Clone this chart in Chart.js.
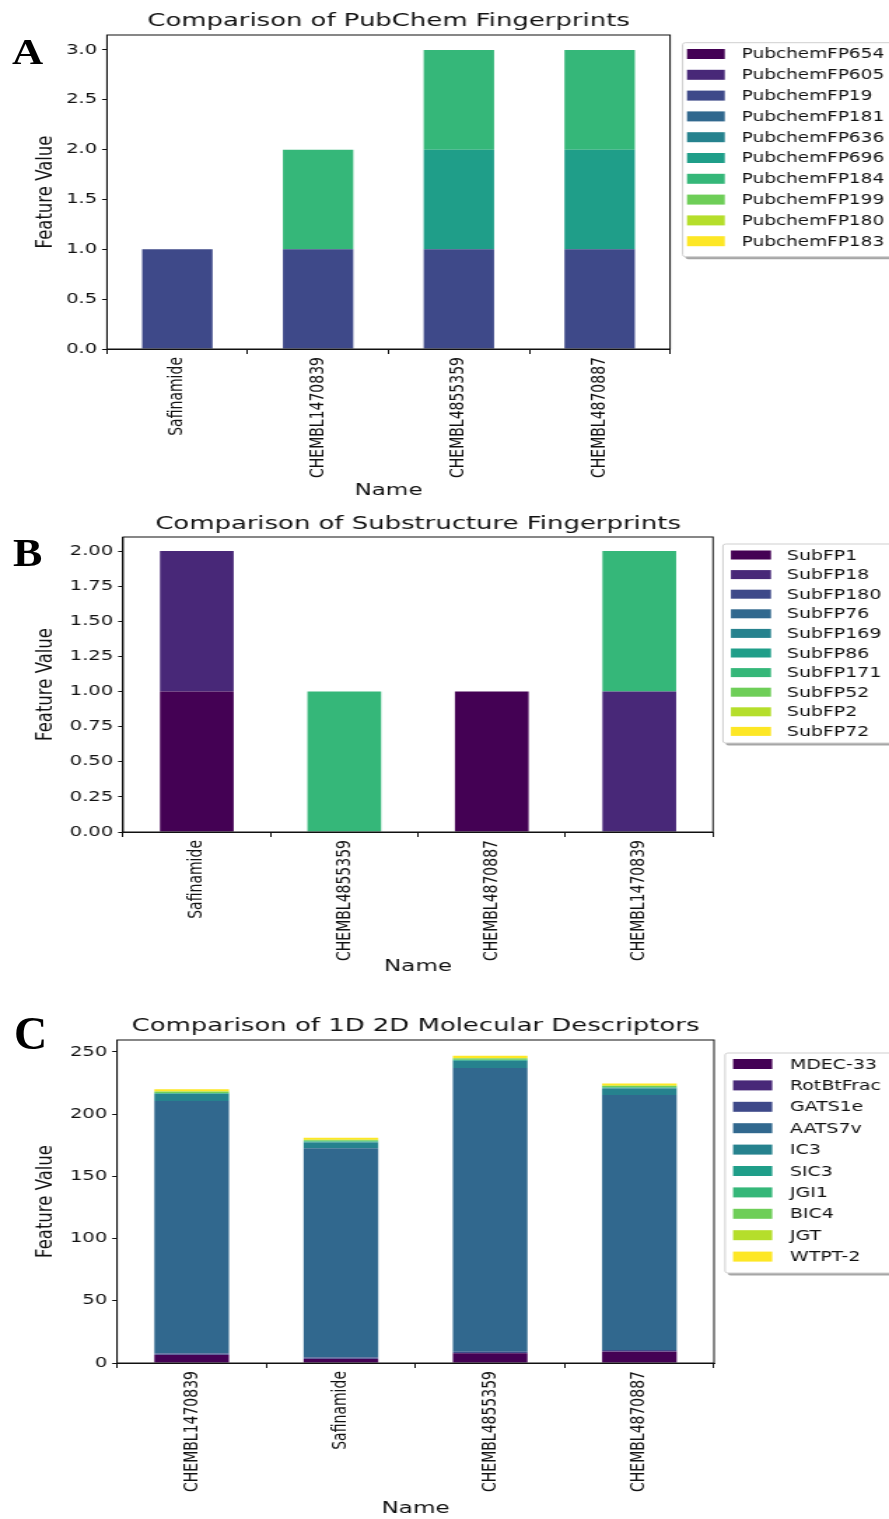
<!DOCTYPE html>
<html><head><meta charset="utf-8">
<script src="https://cdn.jsdelivr.net/npm/chart.js@4.4.1/dist/chart.umd.min.js"></script>
<style>
html,body{margin:0;padding:0;background:#fff;width:889px;height:1519px;overflow:hidden;position:relative;}
.panel{position:absolute;left:0;transform-origin:0 0;transform:scaleX(1.4);}
.panel canvas{display:block;}
.lbl{position:absolute;font-family:"Liberation Serif","DejaVu Serif",serif;font-weight:bold;line-height:1;transform-origin:0 0;color:#000;}
</style></head><body>
<div class="panel" style="top:0px"><canvas id="cA" width="635" height="505"></canvas></div>
<div class="panel" style="top:505px"><canvas id="cB" width="635" height="475"></canvas></div>
<div class="panel" style="top:980px"><canvas id="cC" width="635" height="539"></canvas></div>
<div class="lbl" style="left:12px;top:34px;font-size:36px;transform:scaleX(1.2)">A</div>
<div class="lbl" style="left:13px;top:533px;font-size:40px;transform:scaleX(1.1)">B</div>
<div class="lbl" style="left:14px;top:1011px;font-size:46px;transform:scaleX(1.0)">C</div>
<script>
// ---------- DATA ----------
const VIRIDIS = ['#440154','#482878','#3e4989','#31688e','#26828e','#1f9e89','#35b779','#6ece58','#b5de2b','#fde725'];

// Panel A: PubChem fingerprints
const titleA = 'Comparison of PubChem Fingerprints';
const namesA = ['Safinamide','CHEMBL1470839','CHEMBL4855359','CHEMBL4870887'];
const featuresA = ['PubchemFP654','PubchemFP605','PubchemFP19','PubchemFP181','PubchemFP636','PubchemFP696','PubchemFP184','PubchemFP199','PubchemFP180','PubchemFP183'];
const valuesA = [
  [0,0,0,0], // PubchemFP654
  [0,0,0,0], // PubchemFP605
  [1,1,1,1], // PubchemFP19
  [0,0,0,0], // PubchemFP181
  [0,0,0,0], // PubchemFP636
  [0,0,1,1], // PubchemFP696
  [0,1,1,1], // PubchemFP184
  [0,0,0,0], // PubchemFP199
  [0,0,0,0], // PubchemFP180
  [0,0,0,0]  // PubchemFP183
];
const ticksA = [0,0.5,1.0,1.5,2.0,2.5,3.0];

// Panel B: Substructure fingerprints
const titleB = 'Comparison of Substructure Fingerprints';
const namesB = ['Safinamide','CHEMBL4855359','CHEMBL4870887','CHEMBL1470839'];
const featuresB = ['SubFP1','SubFP18','SubFP180','SubFP76','SubFP169','SubFP86','SubFP171','SubFP52','SubFP2','SubFP72'];
const valuesB = [
  [1,0,1,0], // SubFP1
  [1,0,0,1], // SubFP18
  [0,0,0,0], // SubFP180
  [0,0,0,0], // SubFP76
  [0,0,0,0], // SubFP169
  [0,0,0,0], // SubFP86
  [0,1,0,1], // SubFP171
  [0,0,0,0], // SubFP52
  [0,0,0,0], // SubFP2
  [0,0,0,0]  // SubFP72
];
const ticksB = [0,0.25,0.5,0.75,1.0,1.25,1.5,1.75,2.0];

// Panel C: 1D/2D molecular descriptors
const titleC = 'Comparison of 1D 2D Molecular Descriptors';
const namesC = ['CHEMBL1470839','Safinamide','CHEMBL4855359','CHEMBL4870887'];
const featuresC = ['MDEC-33','RotBtFrac','GATS1e','AATS7v','IC3','SIC3','JGI1','BIC4','JGT','WTPT-2'];
const valuesC = [
  [6.4, 3.2, 7.8, 9.1],       // MDEC-33
  [0.3, 0.3, 0.3, 0.3],       // RotBtFrac
  [1.0, 1.0, 1.0, 1.0],       // GATS1e
  [202.9, 168.1, 227.9, 205.0], // AATS7v
  [5.5, 4.6, 5.8, 5.3],       // IC3
  [0.6, 0.6, 0.6, 0.6],       // SIC3
  [0.4, 0.4, 0.4, 0.4],       // JGI1
  [0.9, 0.8, 0.9, 0.9],       // BIC4
  [0.5, 0.5, 0.5, 0.5],       // JGT
  [1.6, 1.5, 1.7, 1.6]        // WTPT-2
];
const ticksC = [0,50,100,150,200,250];

// ---------- RENDERING ----------
const FONT = "'DejaVu Sans', Verdana, sans-serif";

function rr(ctx, x, y, w, h, r) {
  ctx.beginPath();
  ctx.moveTo(x + r, y);
  ctx.lineTo(x + w - r, y); ctx.quadraticCurveTo(x + w, y, x + w, y + r);
  ctx.lineTo(x + w, y + h - r); ctx.quadraticCurveTo(x + w, y + h, x + w - r, y + h);
  ctx.lineTo(x + r, y + h); ctx.quadraticCurveTo(x, y + h, x, y + h - r);
  ctx.lineTo(x, y + r); ctx.quadraticCurveTo(x, y, x + r, y);
  ctx.closePath();
}

const framePlugin = {
  id: 'frameBox',
  afterDraw(chart) {
    const {ctx, chartArea: a} = chart;
    ctx.save();
    ctx.strokeStyle = '#111';
    ctx.lineWidth = 1;
    ctx.strokeRect(a.left, a.top, a.right - a.left, a.bottom - a.top);
    ctx.restore();
  }
};

const legendPlugin = {
  id: 'boxLegend',
  afterDraw(chart, args, o) {
    const {ctx, chartArea: a} = chart;
    const fx = a.right + o.frameDx;
    ctx.save();
    ctx.fillStyle = 'rgba(0,0,0,0.35)';
    rr(ctx, fx + 2, o.top + 2.5, 200, o.height, 2); ctx.fill();
    ctx.fillStyle = '#fff';
    ctx.strokeStyle = '#cfcfcf';
    ctx.lineWidth = 1;
    rr(ctx, fx, o.top, 200, o.height, 2); ctx.fill(); ctx.stroke();
    ctx.font = o.fontSize + 'px ' + FONT;
    ctx.textBaseline = 'middle';
    ctx.textAlign = 'left';
    chart.data.datasets.forEach((ds, i) => {
      const cy = o.firstRow + i * o.pitch;
      ctx.fillStyle = ds.backgroundColor;
      ctx.fillRect(a.right + o.patchDx, cy - o.patchH / 2, o.patchW, o.patchH);
      ctx.fillStyle = '#111';
      ctx.fillText(ds.label, a.right + o.textDx, cy + 1);
    });
    ctx.restore();
  }
};

function build(id, p) {
  const datasets = p.features.map((f, i) => ({
    label: f,
    data: p.values[i],
    backgroundColor: VIRIDIS[i],
    borderWidth: 0,
    barPercentage: 0.5,
    categoryPercentage: 1.0
  }));
  return new Chart(document.getElementById(id), {
    type: 'bar',
    data: {labels: p.names, datasets},
    options: {
      responsive: false,
      animation: false,
      devicePixelRatio: 1,
      layout: {padding: {left: 0, right: p.padRight, top: 0, bottom: 0}},
      plugins: {
        legend: {display: false},
        tooltip: {enabled: false},
        title: {
          display: true, text: p.title, fullSize: false,
          color: '#111', font: {family: FONT, size: 18.5, weight: 'normal', lineHeight: 1.2},
          padding: {top: p.titleTop, bottom: p.titleBottom}
        },
        boxLegend: p.legend
      },
      scales: {
        x: {
          stacked: true,
          grid: {display: true, drawOnChartArea: false, drawTicks: true, tickLength: 5, color: '#111', lineWidth: 1},
          border: {display: true, color: '#111', width: 1},
          ticks: {autoSkip: false, minRotation: 90, maxRotation: 90, padding: 3, color: '#111', font: {family: FONT, size: 14}},
          title: {display: true, text: 'Name', color: '#111', font: {family: FONT, size: 16.5, lineHeight: 1.2}, padding: {top: 0, bottom: p.nameBottom}},
          afterFit(s) { s.height = p.xHeight; }
        },
        y: {
          stacked: true, min: 0, max: p.ymax,
          afterBuildTicks(s) { s.ticks = p.ticks.map(v => ({value: v})); },
          grid: {display: true, drawOnChartArea: false, drawTicks: true, tickLength: 3.5, color: '#111', lineWidth: 1},
          border: {display: true, color: '#111', width: 1},
          ticks: {padding: 3.5, color: '#111', font: {family: FONT, size: 14}, callback: v => Number(v).toFixed(p.dec)},
          title: {display: true, text: 'Feature Value', color: '#111', font: {family: FONT, size: 16.5, lineHeight: 1.2}, padding: {top: 23, bottom: 0}},
          afterFit(s) { s.width = p.yWidth; }
        }
      }
    },
    plugins: [framePlugin, legendPlugin]
  });
}

build('cA', {
  title: titleA, names: namesA, features: featuresA, values: valuesA, ticks: ticksA,
  ymax: 3.15, dec: 1, padRight: 156.4, yWidth: 76.4, xHeight: 156,
  titleTop: 10, titleBottom: 2.8, nameBottom: 4,
  legend: {frameDx: 9, top: 42.7, height: 214, patchDx: 12.1, patchW: 27, patchH: 10, textDx: 51.2, firstRow: 54, pitch: 20.8, fontSize: 13.2}
});
build('cB', {
  title: titleB, names: namesB, features: featuresB, values: valuesB, ticks: ticksB,
  ymax: 2.1, dec: 2, padRight: 125.7, yWidth: 87.9, xHeight: 148,
  titleTop: 7.9, titleBottom: 1.9, nameBottom: 3,
  legend: {frameDx: 7.1, top: 39, height: 199, patchDx: 12.8, patchW: 28.6, patchH: 9, textDx: 52.8, firstRow: 50, pitch: 19.6, fontSize: 13.5}
});
build('cC', {
  title: titleC, names: namesC, features: featuresC, values: valuesC, ticks: ticksC,
  ymax: 259.6, dec: 0, padRight: 125, yWidth: 83.6, xHeight: 156,
  titleTop: 34.9, titleBottom: 2.9, nameBottom: 0,
  legend: {frameDx: 7.9, top: 73, height: 220, patchDx: 13.6, patchW: 28, patchH: 10, textDx: 54.3, firstRow: 84, pitch: 21.4, fontSize: 13.5}
});
</script>
</body></html>
